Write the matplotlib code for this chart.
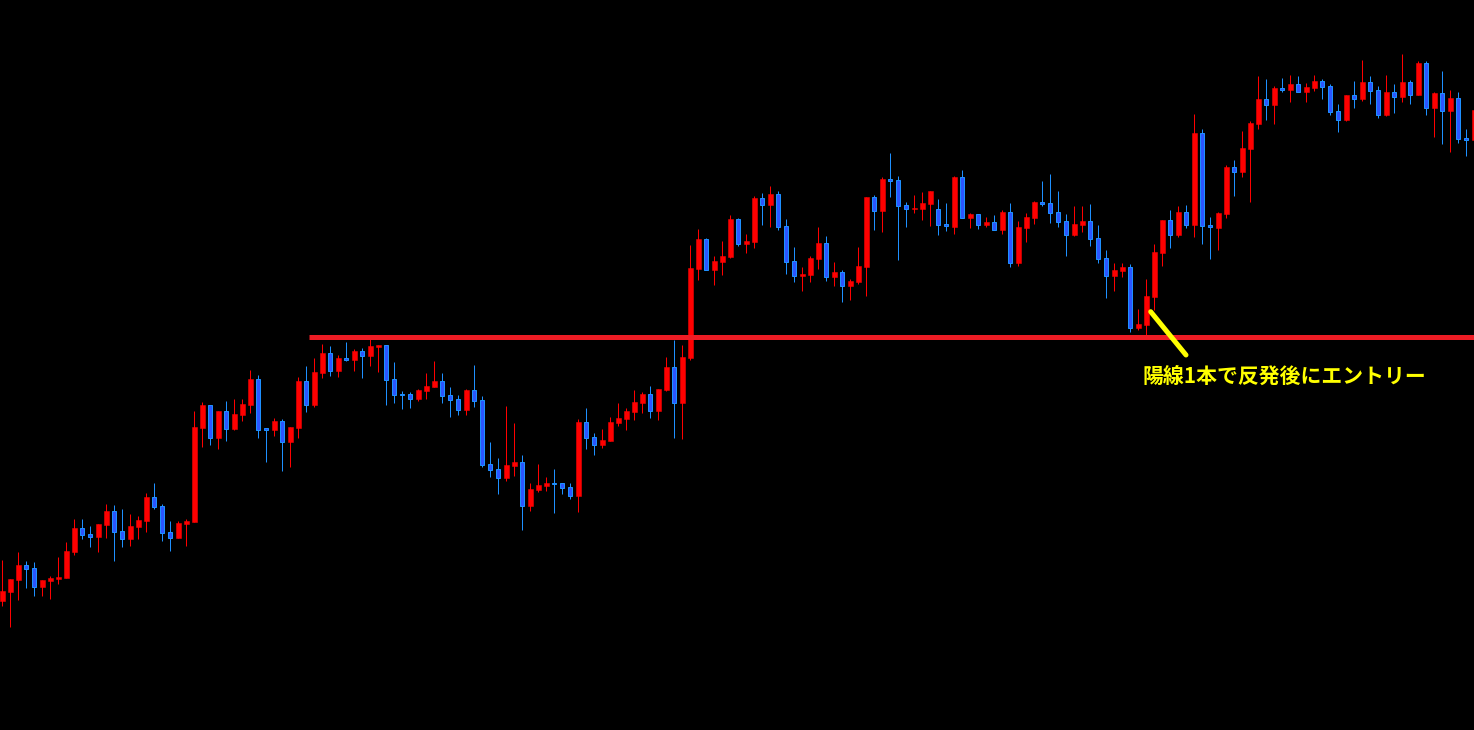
import matplotlib
matplotlib.use("Agg")
import matplotlib.pyplot as plt
import numpy as np

# Candle data (price axis in screen units, larger = lower on chart)
# colour: R = bullish (red), B = bearish (blue)
colour = list(
    "RRRBBRRRRRBBRRBBRRRB"
    "BBRRRRBRBRRRBBRBRRBR"
    "RBRBRBRRBBBBRRRBBBRB"
    "BBBRRBRRRBBBRBBRRRRR"
    "RBRRBRRRBRRRBRRBRBBB"
    "RRRBRBRRRBRBBBRRRBBR"
    "BRBRBRBRRRBBBBRRBBBR"
    "RBRRRRBRBRBBRRBRRRBR"
    "BRBRRBBBRBRBBRBRBRBR"
    "BRBBR")
body_top = [591,579,565,565,568,580,578,577,551,528,528,534,524,511,511,531,526,520,497,497,
            506,532,523,521,427,405,405,411,411,414,404,379,379,428,421,421,427,381,381,372,
            353,353,358,358,351,351,346,345,345,379,394,394,390,386,381,381,395,399,390,390,
            400,464,469,465,462,462,489,485,483,483,483,487,422,422,437,440,422,418,411,402,
            394,394,389,367,367,357,268,239,239,261,256,219,219,241,198,198,194,194,226,261,
            274,258,243,243,272,272,281,266,197,197,179,179,180,205,208,203,191,209,224,177,
            177,214,214,222,222,212,212,227,217,202,202,203,212,221,224,221,221,238,258,270,
            267,267,324,296,252,220,220,212,212,133,133,225,213,167,167,148,123,99,99,88,
            88,84,84,87,81,81,86,111,95,95,82,82,90,92,92,82,82,63,63,93,
            93,98,98,138,110]
body_bot = [601,592,580,569,587,587,581,579,578,552,535,537,537,525,532,539,539,527,521,507,
            533,538,538,524,522,428,438,438,429,429,415,405,430,430,430,442,442,428,405,405,
            373,371,371,360,360,356,356,347,380,395,395,399,399,391,387,396,400,410,410,401,
            465,470,478,478,466,506,506,490,486,484,488,496,496,438,445,445,441,423,419,412,
            403,411,411,390,403,403,358,269,270,270,262,257,244,244,242,205,205,227,262,276,
            276,275,259,277,277,286,286,282,267,211,211,181,206,209,209,209,204,225,226,227,
            218,218,225,225,230,230,263,263,228,218,204,213,222,235,235,225,239,259,276,276,
            271,328,328,325,297,253,235,235,225,225,226,227,228,214,172,172,149,124,105,105,
            90,90,92,92,88,87,112,120,120,99,99,91,115,115,97,97,95,95,108,108,
            111,111,139,140,140]
wick_top = [560,579,552,561,562,580,576,557,542,519,519,526,524,504,505,509,514,516,493,483,
            504,521,521,519,411,402,405,411,401,399,399,370,375,428,418,419,427,377,366,358,
            344,346,355,342,349,348,339,345,345,362,391,392,389,373,361,373,387,395,389,365,
            396,442,458,406,423,455,483,464,477,469,483,483,419,408,433,429,417,403,408,390,
            392,386,389,357,340,345,245,229,238,256,241,215,218,234,196,193,186,191,219,247,
            267,256,227,236,262,270,279,247,197,195,177,153,176,202,195,192,191,199,203,176,
            170,213,214,217,215,210,203,221,213,201,181,174,191,214,206,206,204,225,250,263,
            263,264,309,279,244,220,210,206,205,114,129,217,212,165,160,131,121,76,79,86,
            78,75,76,83,75,79,84,104,95,81,60,76,86,75,84,54,80,61,61,92,
            71,90,92,129,105]
wick_bot = [606,627,600,588,596,596,599,584,578,555,539,547,552,538,561,547,546,539,532,509,
            541,551,538,546,522,447,445,449,441,430,421,413,438,462,436,471,467,438,412,407,
            378,376,377,361,371,378,366,372,405,403,409,408,401,399,387,403,417,415,415,407,
            467,477,494,481,476,530,511,492,491,513,494,499,512,449,455,448,441,426,430,420,
            413,418,420,391,438,439,360,280,270,285,275,258,246,253,248,225,227,230,274,282,
            291,282,269,281,286,302,300,284,296,230,232,197,260,227,213,220,226,235,231,234,
            218,228,229,227,230,234,267,266,242,224,206,223,227,256,236,232,246,263,298,291,
            277,332,330,337,310,266,248,237,228,237,244,259,250,218,196,177,202,129,120,124,
            92,102,92,102,91,99,115,132,121,108,101,104,118,116,113,102,104,95,115,137,
            144,152,143,156,142]

level_y = 337
level_start_px = 309
note_text = "陽線1本で反発後にエントリー"

# ---- figure ----
W, H = 1474, 730
fig = plt.figure(figsize=(W / 100, H / 100), dpi=100, facecolor="black")
ax = fig.add_axes([0, 0, 1, 1])
ax.set_facecolor("black")

n = min(len(colour), len(body_top), len(body_bot), len(wick_top), len(wick_bot))
idx = np.arange(n)
step = 8.0          # pixels per candle
x0_px = 2.3         # centre of first candle in pixels
ax.set_xlim(-x0_px / step, (W - x0_px) / step)
ax.set_ylim(H, 0)
ax.axis("off")

RED = "#ff0000"
BLUE_WICK = "#1e90ff"
BLUE_FACE = "#2b55ff"
px = 72.0 / 100.0   # one pixel in points

is_red = np.array([c == "R" for c in colour[:n]])
bt = np.array(body_top[:n], float)
bb = np.array(body_bot[:n], float)
wt = np.array(wick_top[:n], float)
wb = np.array(wick_bot[:n], float)

# wicks
ax.vlines(idx[is_red], wt[is_red], wb[is_red], colors=RED, linewidth=1.0 * px, zorder=2)
ax.vlines(idx[~is_red], wt[~is_red], wb[~is_red], colors=BLUE_WICK, linewidth=1.0 * px, zorder=2)

# bodies
bw = 5.0 / step
hgt = np.maximum(bb - bt, 1.0)
ax.bar(idx[is_red], hgt[is_red], bottom=bt[is_red], width=bw, color=RED,
       edgecolor=RED, linewidth=0.5 * px, zorder=3)
ax.bar(idx[~is_red], hgt[~is_red], bottom=bt[~is_red], width=bw - 1.0 / step, color=BLUE_FACE,
       edgecolor=BLUE_WICK, linewidth=1.0 * px, zorder=3)

# horizontal level line
xs = (level_start_px - x0_px) / step
ax.hlines(level_y, xs, (W - x0_px) / step + 1, colors="#ed1c24", linewidth=5 * px, zorder=4)

# yellow pointer
p1 = ((1150.7 - x0_px) / step, 311.7)
p2 = ((1186.0 - x0_px) / step, 355.0)
ax.plot([p1[0], p2[0]], [p1[1], p2[1]], color="#ffff00", linewidth=5 * px,
        solid_capstyle="round", zorder=5)

ax.text((1284.5 - x0_px) / step, 376.5, note_text, color="#ffff00", fontsize=15,
        fontweight="bold", ha="center", va="center",
        family=["Noto Sans CJK JP", "DejaVu Sans"], zorder=6)

fig.savefig("out.png", dpi=100, facecolor="black")
